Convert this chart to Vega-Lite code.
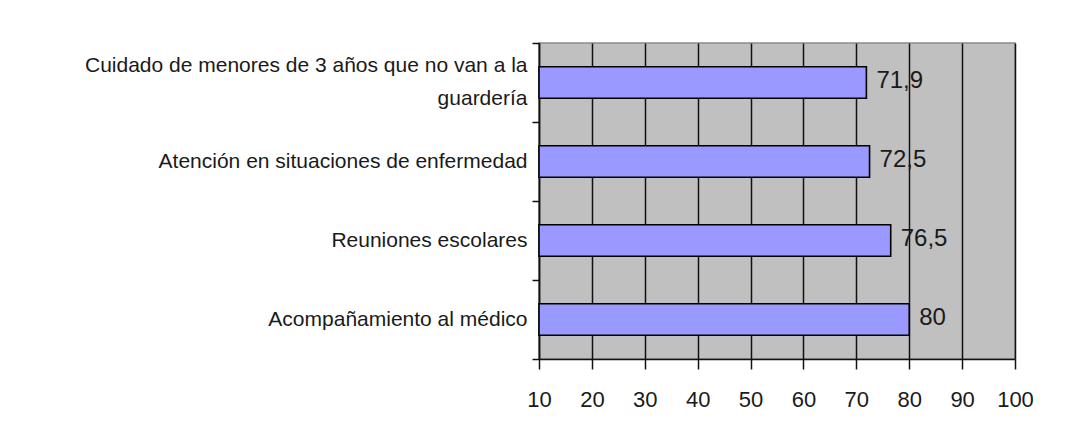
{
  "$schema": "https://vega.github.io/schema/vega-lite/v6.json",
  "autosize": "none",
  "width": 476,
  "height": 316,
  "padding": {"left": 539, "top": 43, "right": 75, "bottom": 64},
  "background": "#ffffff",
  "config": {
    "locale": {"number": {"decimal": ",", "thousands": ".", "grouping": [3], "currency": ["", " €"]}},
    "view": {"fill": "#c0c0c0", "stroke": "#8a8a8a", "strokeWidth": 1.5},
    "font": "Liberation Sans"
  },
  "data": {
    "values": [
      {"actividad": "Cuidado de menores de 3 años que no van a la guardería", "valor": 71.9},
      {"actividad": "Atención en situaciones de enfermedad", "valor": 72.5},
      {"actividad": "Reuniones escolares", "valor": 76.5},
      {"actividad": "Acompañamiento al médico", "valor": 80}
    ]
  },
  "encoding": {
    "x": {
      "field": "valor",
      "type": "quantitative",
      "scale": {"domain": [10, 100], "zero": false, "nice": false, "clamp": true},
      "axis": {
        "title": null,
        "values": [10, 20, 30, 40, 50, 60, 70, 80, 90, 100],
        "format": "d",
        "grid": true,
        "gridColor": "#111",
        "gridWidth": 1.5,
        "gridOpacity": 1,
        "tickSize": 10,
        "tickColor": "#111",
        "tickWidth": 1.5,
        "domainColor": "#111",
        "domainWidth": 1.5,
        "labelFontSize": 22,
        "labelColor": "#1a1a1a",
        "labelPadding": 20,
        "labelFlush": false
      }
    }
  },
  "layer": [
    {
      "mark": {"type": "bar", "fill": "#9999ff", "stroke": "#000", "strokeWidth": 1.6, "height": {"band": 0.4}},
      "encoding": {
        "y": {
          "field": "actividad",
          "type": "nominal",
          "sort": null,
          "scale": {"paddingInner": 0, "paddingOuter": 0},
          "axis": {
            "title": null,
            "orient": "left",
            "tickBand": "extent",
            "tickSize": 7,
            "tickColor": "#111",
            "tickWidth": 1.5,
            "domainColor": "#111",
            "domainWidth": 1.5,
            "grid": false,
            "labelFontSize": 21,
            "labelColor": "#1a1a1a",
            "labelPadding": 5,
            "labelLimit": 0,
            "labelExpr": "indexof(datum.label, 'guardería') >= 0 ? '' : datum.label"
          }
        }
      }
    },
    {
      "mark": {"type": "text", "align": "left", "baseline": "middle", "dx": 10, "dy": -2, "fontSize": 24, "color": "#1a1a1a"},
      "encoding": {
        "y": {
          "field": "actividad",
          "type": "nominal",
          "sort": null,
          "axis": {
            "title": null,
            "orient": "left",
            "tickBand": "extent",
            "tickSize": 7,
            "tickOpacity": 0,
            "domainOpacity": 0,
            "grid": false,
            "labelFontSize": 21,
            "labelColor": "#1a1a1a",
            "labelPadding": 5,
            "labelLimit": 0,
            "labelLineHeight": 33,
            "labelOffset": -17,
            "labelExpr": "indexof(datum.label, 'guardería') >= 0 ? ['Cuidado de menores de 3 años que no van a la', 'guardería'] : ''"
          }
        },
        "text": {"field": "valor", "type": "quantitative", "format": ".1~f"}
      }
    }
  ],
  "resolve": {"axis": {"y": "independent"}}
}
